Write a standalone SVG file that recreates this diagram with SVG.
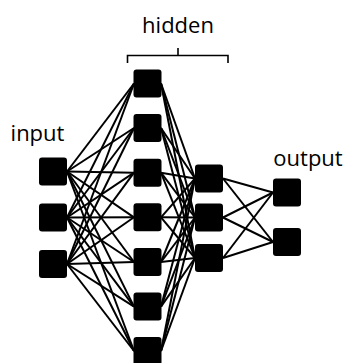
<svg xmlns="http://www.w3.org/2000/svg" width="348" height="363" viewBox="0 0 348 363">
<style>
.n{fill:#000}
.e line{stroke:#000;stroke-width:2}
.t{font-family:"Open Sans","Liberation Sans",sans-serif;font-size:22px;fill:#000;text-anchor:middle}
.b{fill:none;stroke:#000;stroke-width:1.6}
</style>
<rect width="348" height="363" fill="#fff"/>
<g id="connectors" class="e">
<!-- input -> hidden -->
<line x1="67" y1="171.5" x2="134" y2="83.5"/><line x1="67" y1="171.5" x2="134" y2="128"/><line x1="67" y1="171.5" x2="134" y2="172.7"/><line x1="67" y1="171.5" x2="134" y2="217.3"/><line x1="67" y1="171.5" x2="134" y2="262"/><line x1="67" y1="171.5" x2="134" y2="306.6"/><line x1="67" y1="171.5" x2="134" y2="351"/>
<line x1="67" y1="217.5" x2="134" y2="83.5"/><line x1="67" y1="217.5" x2="134" y2="128"/><line x1="67" y1="217.5" x2="134" y2="172.7"/><line x1="67" y1="217.5" x2="134" y2="217.3"/><line x1="67" y1="217.5" x2="134" y2="262"/><line x1="67" y1="217.5" x2="134" y2="306.6"/><line x1="67" y1="217.5" x2="134" y2="351"/>
<line x1="67" y1="264" x2="134" y2="83.5"/><line x1="67" y1="264" x2="134" y2="128"/><line x1="67" y1="264" x2="134" y2="172.7"/><line x1="67" y1="264" x2="134" y2="217.3"/><line x1="67" y1="264" x2="134" y2="262"/><line x1="67" y1="264" x2="134" y2="306.6"/><line x1="67" y1="264" x2="134" y2="351"/>
<!-- hidden1 -> hidden2 -->
<line x1="161" y1="83.5" x2="195" y2="178.5"/><line x1="161" y1="83.5" x2="195" y2="217.5"/><line x1="161" y1="83.5" x2="195" y2="258"/>
<line x1="161" y1="128" x2="195" y2="178.5"/><line x1="161" y1="128" x2="195" y2="217.5"/><line x1="161" y1="128" x2="195" y2="258"/>
<line x1="161" y1="172.7" x2="195" y2="178.5"/><line x1="161" y1="172.7" x2="195" y2="217.5"/><line x1="161" y1="172.7" x2="195" y2="258"/>
<line x1="161" y1="217.3" x2="195" y2="178.5"/><line x1="161" y1="217.3" x2="195" y2="217.5"/><line x1="161" y1="217.3" x2="195" y2="258"/>
<line x1="161" y1="262" x2="195" y2="178.5"/><line x1="161" y1="262" x2="195" y2="217.5"/><line x1="161" y1="262" x2="195" y2="258"/>
<line x1="161" y1="306.6" x2="195" y2="178.5"/><line x1="161" y1="306.6" x2="195" y2="217.5"/><line x1="161" y1="306.6" x2="195" y2="258"/>
<line x1="161" y1="351" x2="195" y2="178.5"/><line x1="161" y1="351" x2="195" y2="217.5"/><line x1="161" y1="351" x2="195" y2="258"/>
<!-- hidden2 -> output -->
<line x1="223" y1="178.5" x2="273" y2="192.5"/><line x1="223" y1="178.5" x2="273" y2="242"/>
<line x1="223" y1="217.5" x2="273" y2="192.5"/><line x1="223" y1="217.5" x2="273" y2="242"/>
<line x1="223" y1="258" x2="273" y2="192.5"/><line x1="223" y1="258" x2="273" y2="242"/>
</g>
<g id="input-1"><rect class="n" x="39" y="157.5" width="28" height="28" rx="3"/></g>
<g id="input-2"><rect class="n" x="39" y="203.5" width="28" height="28" rx="3"/></g>
<g id="input-3"><rect class="n" x="39" y="250" width="28" height="28" rx="3"/></g>
<g id="hidden1-1"><rect class="n" x="133.5" y="69.5" width="28" height="28" rx="3"/></g>
<g id="hidden1-2"><rect class="n" x="133.5" y="114" width="28" height="28" rx="3"/></g>
<g id="hidden1-3"><rect class="n" x="133.5" y="158.7" width="28" height="28" rx="3"/></g>
<g id="hidden1-4"><rect class="n" x="133.5" y="203.3" width="28" height="28" rx="3"/></g>
<g id="hidden1-5"><rect class="n" x="133.5" y="248" width="28" height="28" rx="3"/></g>
<g id="hidden1-6"><rect class="n" x="133.5" y="292.6" width="28" height="28" rx="3"/></g>
<g id="hidden1-7"><rect class="n" x="133.5" y="337" width="28" height="28" rx="3"/></g>
<g id="hidden2-1"><rect class="n" x="195" y="164.5" width="28" height="28" rx="3"/></g>
<g id="hidden2-2"><rect class="n" x="195" y="203.5" width="28" height="28" rx="3"/></g>
<g id="hidden2-3"><rect class="n" x="195" y="244" width="28" height="28" rx="3"/></g>
<g id="output-1"><rect class="n" x="273" y="178.5" width="28" height="28" rx="3"/></g>
<g id="output-2"><rect class="n" x="273" y="228" width="28" height="28" rx="3"/></g>
<g id="labels">
<text class="t" x="178" y="33">hidden</text>
<text class="t" x="37.5" y="141">input</text>
<text class="t" x="308" y="166">output</text>
<path class="b" d="M127.5 63 V55.5 H228 V63 M178 55.5 V48"/>
</g>
</svg>
